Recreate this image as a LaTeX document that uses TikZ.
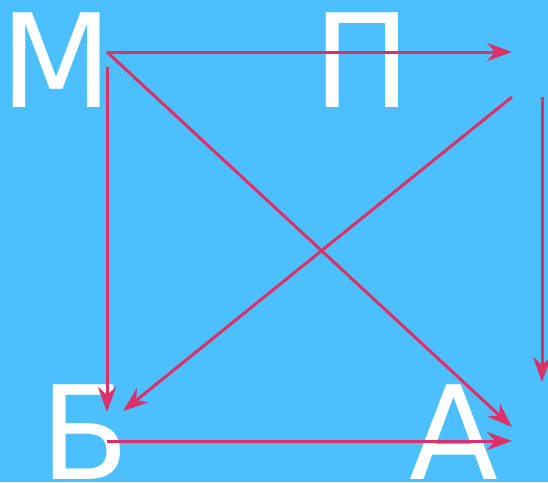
\documentclass[tikz,border=0pt]{standalone}
\usepackage{fontspec}
\setmainfont{DejaVu Sans}
\usetikzlibrary{arrows.meta}
\definecolor{bgblue}{HTML}{4CBFFF}
\definecolor{arrpink}{HTML}{DC3068}
\begin{document}
\begin{tikzpicture}[x=1pt,y=-1pt,
  letter/.style={text=white,font=\fontsize{130}{130}\selectfont,inner sep=0pt,anchor=base},
  conn/.style={draw=arrpink,line width=3pt,-{Stealth[length=25pt,width=18pt,inset=8pt]}}]
\fill[bgblue] (0,0) rectangle (548,482);
\useasboundingbox (0,0) rectangle (548,482);
\node[letter] (M) at (57,107) {М};
\node[letter] (P) at (362,107) {П};
\node[letter] (B) at (85,479) {Б};
\node[letter] (A) at (454,479) {А};
\coordinate (m1) at (107,52);
\coordinate (m2) at (107,67);
\coordinate (p1) at (512,52);
\coordinate (p2) at (512,97);
\coordinate (p3) at (542,97);
\coordinate (b1) at (107,412);
\coordinate (b2) at (123,411);
\coordinate (b3) at (107,441);
\coordinate (a1) at (542,382);
\coordinate (a2) at (512,427);
\coordinate (a3) at (512,441);
\draw[conn] (m1) -- (p1);
\draw[conn] (m1) -- (a2);
\draw[conn] (m2) -- (b1);
\draw[conn] (p2) -- (b2);
\draw[conn] (p3) -- (a1);
\draw[conn] (b3) -- (a3);
\end{tikzpicture}
\end{document}
